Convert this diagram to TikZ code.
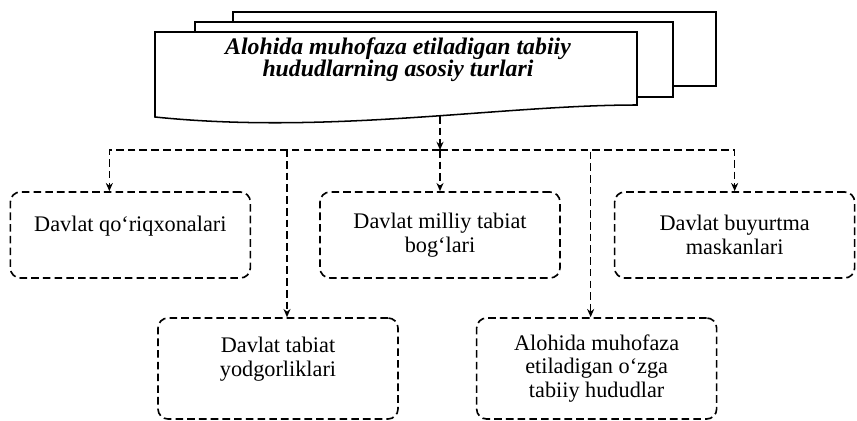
\documentclass[tikz,border=0pt]{standalone}
\usepackage{fontspec}
\setmainfont{Liberation Serif}
\usetikzlibrary{arrows.meta, positioning}

\begin{document}
\begin{tikzpicture}[
      x=0.03cm, y=-0.03cm,
      sheet/.style={draw, line width=1.3pt, fill=white},
      kind/.style={rectangle, draw, line width=1.4pt, dash pattern=on 6.5pt off 3.5pt, rounded corners=0.3cm, minimum width=7.2cm, minimum height=2.58cm, align=center, font=\fontsize{19}{20}\selectfont},
      lowkind/.style={kind, minimum height=3.03cm},
      title/.style={align=center, font=\bfseries\itshape\fontsize{20.3}{19}\selectfont},
      arrow/.style={-{Stealth[length=7pt,width=6pt]}, line width=1.3pt, dash pattern=on 6.5pt off 3.5pt}
    ]
    \useasboundingbox (0,0) rectangle (857,421);

    \draw[sheet] (233,12) rectangle (716,86);
    \draw[sheet] (195,22) rectangle (673,97);
    \draw[sheet] (155,32) -- (637,32) -- (637,105) .. controls (500,105) and (330,135) .. (155,117) -- cycle;
    \node[title] (head) at (398,60) {Alohida muhofaza etiladigan tabiiy\\hududlarning asosiy turlari};
    \coordinate (tip) at (440,116);
    \coordinate (hub) at (440,150);

    \node[kind] (milliy) at (440,235) {Davlat milliy tabiat\\bog‘lari};
    \node[kind, left=2.04cm of milliy] (qori) {Davlat qo‘riqxonalari\\~};
    \node[kind, right=1.59cm of milliy] (buyurtma) {Davlat buyurtma\\maskanlari};
    \node[lowkind] (yodgor) at (278,368.5) {Davlat tabiat\\yodgorliklari\\~};
    \node[lowkind, right=2.31cm of yodgor] (ozga) {Alohida muhofaza\\etiladigan o‘zga\\tabiiy hududlar};

    \draw[arrow] (tip) -- (hub);
    \draw[arrow] (hub) -| ([xshift=-0.63cm]qori.north);
    \draw[arrow] (hub) -| ([xshift=0.27cm]yodgor.north);
    \draw[arrow] (hub) -- (milliy.north);
    \draw[arrow] (hub) -| ([xshift=-0.18cm]ozga.north);
    \draw[arrow] (hub) -| (buyurtma.north);
  \end{tikzpicture}
\end{document}
